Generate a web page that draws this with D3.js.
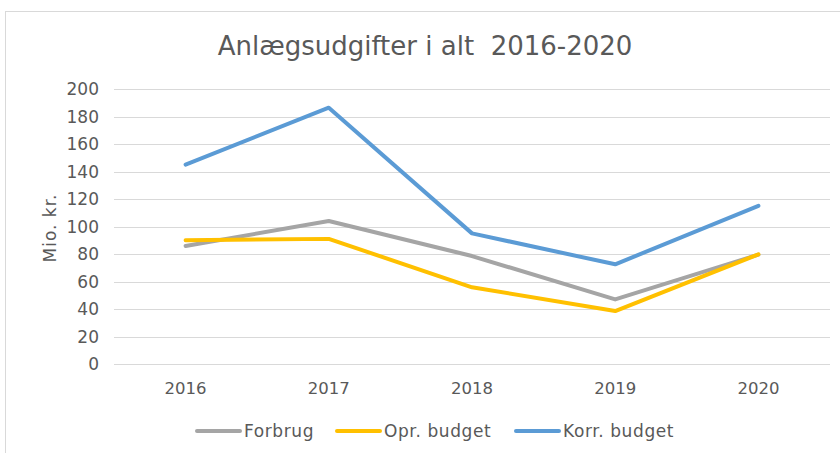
<!DOCTYPE html>
<html><head><meta charset="utf-8">
<script src="https://cdn.jsdelivr.net/npm/d3@7"></script>
<style>body{margin:0;background:#fff}svg{display:block}text{font-family:"DejaVu Sans",sans-serif;fill:#595959}</style>
</head><body>
<svg id="c" width="840" height="453"></svg>
<script>
const years = ["2016","2017","2018","2019","2020"];
const forbrug = [85.8, 104, 78.5, 47, 79.5];
const oprBudget = [90, 91, 55.8, 38.5, 79.8];
const korrBudget = [145, 186.4, 95, 72.5, 115];
const yTicks = [0,20,40,60,80,100,120,140,160,180,200];
const seriesNames = ["Forbrug","Opr. budget","Korr. budget"];
const seriesColors = ["#A5A5A5","#FFC000","#5B9BD5"];

const svg = d3.select("#c");
svg.append("rect").attr("x",5.5).attr("y",11.5).attr("width",850).attr("height",460)
  .attr("fill","#fff").attr("stroke","#D9D9D9").attr("stroke-width",1);

const x = d3.scaleBand().domain(years).range([114,830]);
const y = d3.scaleLinear().domain([0,200]).range([364,89]);

// grid
svg.append("g").selectAll("line").data(yTicks).join("line")
  .attr("x1",114).attr("x2",830).attr("y1",d=>Math.round(y(d))+0.5).attr("y2",d=>Math.round(y(d))+0.5)
  .attr("stroke","#D9D9D9").attr("stroke-width",1);

// y axis
const ya = svg.append("g").attr("transform","translate(114,0)")
  .call(d3.axisLeft(y).tickValues(yTicks).tickSize(0).tickPadding(15));
ya.select(".domain").remove();
ya.selectAll("text").style("font-size","17px").style("font-family","DejaVu Sans").attr("fill","#595959").attr("dy","0.35em");

// x axis
const xa = svg.append("g").attr("transform","translate(0,364)")
  .call(d3.axisBottom(x).tickSize(0).tickPadding(18));
xa.select(".domain").remove();
xa.selectAll("text").style("font-size","16.5px").style("font-family","DejaVu Sans").attr("fill","#595959");

// title
svg.append("text").attr("x",425).attr("y",55).attr("text-anchor","middle")
  .attr("xml:space","preserve").style("font-size","26px").text("Anlægsudgifter i alt  2016-2020");

// y title
svg.append("text").attr("transform","translate(56,228) rotate(-90)").attr("text-anchor","middle")
  .style("font-size","17px").style("letter-spacing","1px").text("Mio. kr.");

const line = d3.line().x((d,i)=>x(years[i])+x.bandwidth()/2).y(d=>y(d));
const data = [forbrug, oprBudget, korrBudget];
svg.append("g").selectAll("path").data(data).join("path")
  .attr("d",line).attr("fill","none").attr("stroke",(d,i)=>seriesColors[i])
  .attr("stroke-width",4).attr("stroke-linejoin","round").attr("stroke-linecap","round");

// legend
const legX = [197, 337, 516];
const lg = svg.append("g").selectAll("g").data(seriesNames).join("g")
  .attr("transform",(d,i)=>`translate(${legX[i]},431)`);
lg.append("line").attr("x1",0).attr("x2",43).attr("stroke",(d,i)=>seriesColors[i])
  .attr("stroke-width",4).attr("stroke-linecap","round");
lg.append("text").attr("x",47).attr("dy","0.35em").style("font-size","17px").style("letter-spacing","0.6px").text(d=>d);
</script>
</body></html>
